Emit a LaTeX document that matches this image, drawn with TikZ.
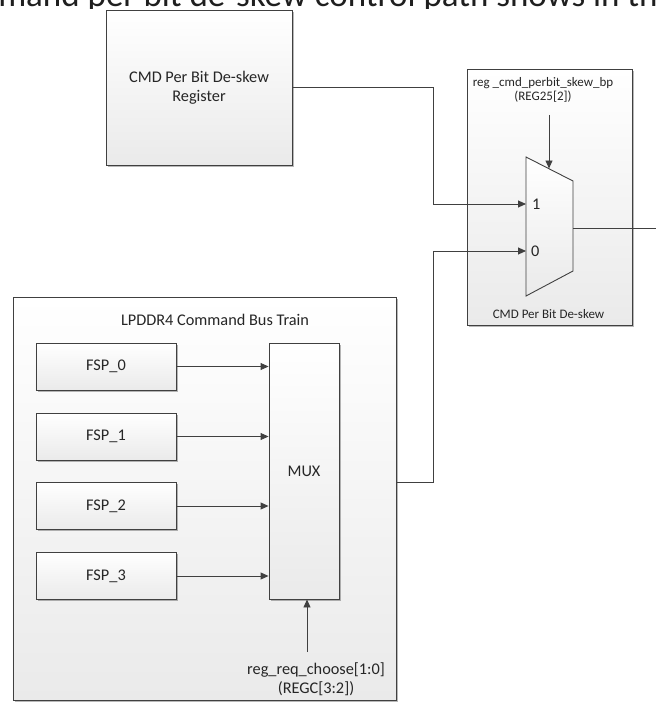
\documentclass[tikz,border=0pt]{standalone}
\usepackage{fontspec}
\setmainfont{Carlito}
\usetikzlibrary{arrows.meta,shadows,calc}

\definecolor{linegray}{HTML}{404040}
\definecolor{boxgray}{HTML}{EAEAEA}
\definecolor{textgray}{HTML}{262626}

\tikzset{
  wire/.style={draw=linegray, line width=0.9bp},
  sig/.style={wire, -{Triangle[length=8bp,width=7bp]}},
  block/.style={draw=linegray, line width=0.9bp, top color=white, bottom color=boxgray,
    drop shadow={shadow xshift=1.6bp, shadow yshift=-1.6bp, fill=black, opacity=0.28},
    inner sep=0pt, align=center, text=textgray,
    font=\fontsize{16.3bp}{19.5bp}\selectfont},
  lbl/.style={inner sep=0pt, align=center, text=textgray,
    font=\fontsize{16.3bp}{19bp}\selectfont},
  smalllbl/.style={inner sep=0pt, align=center, text=textgray,
    font=\fontsize{13bp}{14bp}\selectfont},
}

\begin{document}
\begin{tikzpicture}[x=1bp, y=-1bp]
\useasboundingbox (0,0) rectangle (656,702);
\fill[white] (0,0) rectangle (656,702);

% running text line above the figure
\begin{scope}
  \clip (0,0) rectangle (656,9);
  \node[anchor=base west, inner sep=0pt, text=black!88,
        font=\fontsize{35bp}{40bp}\selectfont] (caption) at (-67,6.5)
        {Command per bit de-skew control path shows in the};
\end{scope}

% register block
\node[block, minimum width=186bp, minimum height=155bp] (reg) at (199,87.5)
  {CMD Per Bit De-skew\\Register};

% per-bit de-skew block with its 2:1 selector
\node[block, minimum width=165bp, minimum height=256bp] (deskew) at (549.5,197) {};
\coordinate (m1) at (526,157);
\coordinate (m2) at (573,181);
\coordinate (m3) at (573,271);
\coordinate (m4) at (526,296);
\draw[wire, top color=white, bottom color=boxgray] (m1) -- (m2) -- (m3) -- (m4) -- cycle;
\coordinate (in1) at (526,204);
\coordinate (in0) at (526,251);
\coordinate (selout) at (573,228);
\coordinate (selctl) at (549,168.5);
\coordinate (outend) at (660,228);
\node[smalllbl] (bplbl) at (543,90) {reg \_cmd\_perbit\_skew\_bp\\(REG25[2])};
\coordinate (bpsrc) at (549,115);
\node[smalllbl] (desklbl) at (548.5,314) {CMD Per Bit De-skew};
\node[lbl, anchor=west] (one) at ($(in1)+(6,0)$) {1};
\node[lbl, anchor=west] (zero) at ($(in0)+(5,0)$) {0};

% command bus training block
\node[block, minimum width=383bp, minimum height=403bp] (cbt) at (204.5,498.5) {};
\node[lbl] (cbtlbl) at (215,320) {LPDDR4 Command Bus Train};
\node[block, minimum width=140bp, minimum height=47bp] (fsp0) at (106,366.5) {FSP\_0};
\node[block, minimum width=140bp, minimum height=47bp] (fsp1) at (106,436.5) {FSP\_1};
\node[block, minimum width=140bp, minimum height=47bp] (fsp2) at (106,506) {FSP\_2};
\node[block, minimum width=140bp, minimum height=47bp] (fsp3) at (106,576) {FSP\_3};
\node[block, minimum width=70bp, minimum height=256bp] (mux) at (304,471) {MUX};
\node[lbl] (chooselbl) at (316,679.5) {reg\_req\_choose[1:0]\\(REGC[3:2])};
\coordinate (choosesrc) at (307,652);

% connections inside the training block
\foreach \f in {fsp0,fsp1,fsp2,fsp3}
  \draw[sig] (\f.east) -- (\f.east -| mux.west);
\draw[sig] (choosesrc) -- (choosesrc |- mux.south);

% routing to the selector
\coordinate (bus) at (433,0);
\coordinate (cbtout) at (cbt.east |- 0,482);
\draw[sig] (reg.east) -- (reg.east -| bus) -- (bus |- in1) -- (in1);
\draw[sig] (cbtout) -- (cbtout -| bus) -- (bus |- in0) -- (in0);
\draw[sig] (bpsrc) -- (selctl);
\draw[wire] (selout) -- (outend);
\end{tikzpicture}
\end{document}
